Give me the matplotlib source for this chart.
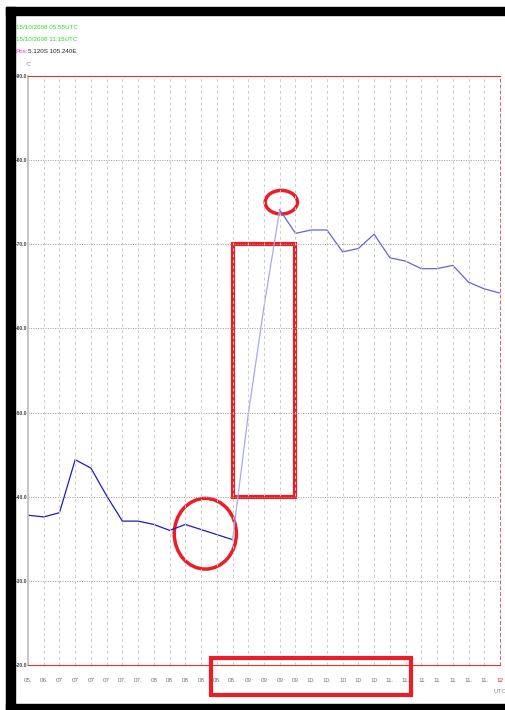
"""cloud top temperature trace, 15/10/2008"""
import matplotlib.pyplot as plt
from matplotlib.patches import Rectangle, Ellipse

plt.rcParams["font.family"] = ["Liberation Sans", "DejaVu Sans"]

tick_labels = ["05.", "06.", "07", "07", "07", "07", "07.", "07.", "08", "08",
               "08", "08", "08.", "08.", "09", "09", "09", "09", "10.", "10.",
               "10", "10", "10", "11.", "11.", "11", "11", "11", "11.", "11.", "12"]
temps = [-37.8, -37.6, -38.1, -44.4, -43.4, -40.1, -37.1, -37.1, -36.7, -36.0,
         -36.7, -36.1, -35.5, -34.9, -49.8, -62.6, -74.1, -71.3, -71.7, -71.7,
         -69.1, -69.5, -71.2, -68.4, -68.0, -67.1, -67.1, -67.5, -65.5, -64.7, -64.2]
y_ticks = [-90.0, -80.0, -70.0, -60.0, -50.0, -40.0, -30.0, -20.0]
start_label = "15/10/2008 05:55UTC"
end_label = "15/10/2008 11:15UTC"
pos_label = "5.120S 105.240E"

fig = plt.figure(figsize=(5.05, 7.10), dpi=100)

# black window frame on a background axes in pixel units
bg = fig.add_axes([0, 0, 1, 1], zorder=-1)
bg.set_xlim(0, 505)
bg.set_ylim(710, 0)
bg.axis("off")
for l, t, w, h in [(6, 7, 499, 8), (6, 7, 9, 703), (6, 704, 499, 6)]:
    bg.add_patch(Rectangle((l, t), w, h, color="black"))

ax = fig.add_axes([28 / 505, 45 / 710, 472 / 505, 589 / 710])
ax.patch.set_alpha(0)

x = list(range(len(temps)))
# dark before the jump, pale through it, mid blue after
ax.plot(x[:14], temps[:14], color="#1c1cc0", lw=0.9)
ax.plot(x[13:17], temps[13:17], color="#a8a8f4", lw=0.9)
ax.plot(x[16:], temps[16:], color="#6464d4", lw=0.9)

ax.set_xlim(0, len(temps) - 1)
ax.set_ylim(-20, -90)
ax.set_yticks(y_ticks)
ax.set_yticklabels(["%.1f" % v for v in y_ticks], fontsize=3.6, color="#444444",
                   fontweight="bold")
ax.set_xticks(x)
ax.set_xticklabels(tick_labels, fontsize=4.5, color="#777777")
ax.get_xticklabels()[-1].set_color("#dd2222")
ax.tick_params(length=0, pad=9)
ax.tick_params(axis="y", pad=0.6)

for v in y_ticks[1:-1]:
    ax.axhline(v, color="#999999", lw=0.7, ls=(0, (1, 1.5)))
for i in x[1:-1]:
    ax.axvline(i, color="#cccccc", lw=0.7, ls=(0, (3, 3)))

for side in ["top", "bottom"]:
    ax.spines[side].set_color("#e03030")
    ax.spines[side].set_linestyle((0, (1, 1)))
    ax.spines[side].set_linewidth(0.8)
ax.spines["right"].set_color("#e86060")
ax.spines["right"].set_linestyle((0, (3, 3)))
ax.spines["right"].set_linewidth(0.7)
ax.spines["left"].set_color("#bbbbbb")
ax.spines["left"].set_linewidth(1.2)

# highlight marks
ax.add_patch(Rectangle((13, -70), 4, 30, fill=False, ec="#ee1c24", lw=3))
ax.add_patch(Ellipse((11.27, -35.6), 3.95, 8.4, fill=False, ec="#ee1c24", lw=2.5))
ax.add_patch(Ellipse((16.1, -75.0), 2.05, 2.8, fill=False, ec="#ee1c24", lw=2.5))
fig.patches.append(Rectangle((211 / 505, 1 - 695 / 710), 200 / 505, 37 / 710,
                             transform=fig.transFigure, fill=False,
                             ec="#ee1c24", lw=3, zorder=3))

fig.text(16 / 505, 1 - 29 / 710, start_label, fontsize=4.5, color="#22dd22")
fig.text(16 / 505, 1 - 41 / 710, end_label, fontsize=4.5, color="#22dd22")
fig.text(16 / 505, 1 - 53 / 710, "Pos:", fontsize=4.5, color="#ee22ee")
fig.text(28 / 505, 1 - 53 / 710, pos_label, fontsize=4.5, color="#222222")
fig.text(26 / 505, 1 - 66 / 710, "°C", fontsize=4, color="#888888")
fig.text(493 / 505, 1 - 693 / 710, "UTC", fontsize=4.5, color="#888888")

fig.savefig("out.png", dpi=100)
